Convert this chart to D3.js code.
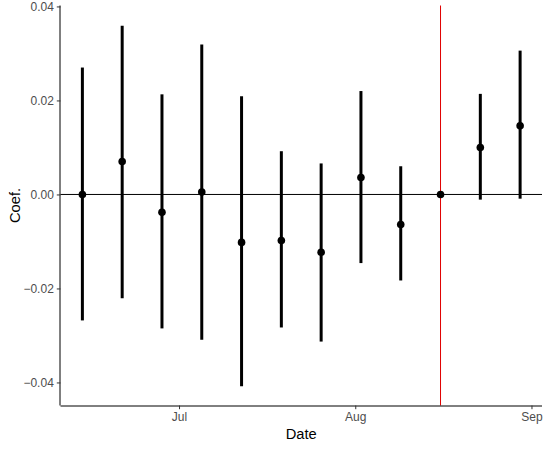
<!DOCTYPE html>
<html>
<head>
<meta charset="utf-8">
<script src="https://cdn.jsdelivr.net/npm/d3@7"></script>
<style>
  body { margin: 0; background: #fff; }
  svg { display: block; }
</style>
</head>
<body>
<svg id="chart" width="550" height="450"></svg>
<script>
// weekly event-study coefficients with 95% intervals
const dates = ['2020-06-14', '2020-06-21', '2020-06-28', '2020-07-05', '2020-07-12', '2020-07-19',
  '2020-07-26', '2020-08-02', '2020-08-09', '2020-08-16', '2020-08-23', '2020-08-30'];
const coef = [0, 0.0070, -0.0038, 0.0005, -0.0102, -0.0098, -0.0123, 0.0036, -0.0064, 0, 0.0100, 0.0146];
const lower = [-0.0268, -0.0221, -0.0285, -0.0309, -0.0408, -0.0283, -0.0313, -0.0146, -0.0183, 0, -0.0011, -0.0009];
const upper = [0.0270, 0.0359, 0.0213, 0.0319, 0.0209, 0.0092, 0.0066, 0.0220, 0.0060, 0, 0.0214, 0.0306];
const refDate = '2020-08-16';
const xTicks = ['2020-07-01', '2020-08-01', '2020-09-01'];
const yTicks = [-0.04, -0.02, 0, 0.02, 0.04];

const parse = d3.utcParse('%Y-%m-%d');
const data = dates.map((d, i) => ({ date: parse(d), coef: coef[i], lo: lower[i], hi: upper[i] }));

const svg = d3.select('#chart');
const panel = { left: 60.5, right: 542, top: 5.5, bottom: 405.5 };
const FONT = 'Arial, "Liberation Sans", sans-serif';

// ggplot-style 5% expansion on x
const [d0, d1] = d3.extent(data, (d) => d.date);
const pad = (d1 - d0) * 0.05;
const x = d3.scaleUtc()
  .domain([new Date(+d0 - pad), new Date(+d1 + pad)])
  .range([panel.left, panel.right]);

const y = d3.scaleLinear()
  .domain([-0.0449, 0.0402])
  .range([panel.bottom, panel.top]);

// zero line
svg.append('line')
  .attr('x1', panel.left)
  .attr('x2', panel.right)
  .attr('y1', y(0))
  .attr('y2', y(0))
  .style('stroke', '#000')
  .style('stroke-width', 1);

// reference date line
svg.append('line')
  .attr('x1', x(parse(refDate)))
  .attr('x2', x(parse(refDate)))
  .attr('y1', panel.top)
  .attr('y2', panel.bottom)
  .style('stroke', '#e00000')
  .style('stroke-width', 1);

// error bars
svg.append('g')
  .selectAll('line')
  .data(data.filter((d) => d.hi !== d.lo))
  .join('line')
  .attr('x1', (d) => x(d.date))
  .attr('x2', (d) => x(d.date))
  .attr('y1', (d) => y(d.lo))
  .attr('y2', (d) => y(d.hi))
  .style('stroke', '#000')
  .style('stroke-width', 3);

// points
svg.append('g')
  .selectAll('circle')
  .data(data)
  .join('circle')
  .attr('cx', (d) => x(d.date))
  .attr('cy', (d) => y(d.coef))
  .attr('r', 3.8)
  .style('fill', '#000');

// axes
const xAxis = svg.append('g')
  .attr('transform', `translate(0,${panel.bottom})`)
  .call(d3.axisBottom(x)
    .tickValues(xTicks.map(parse))
    .tickFormat(d3.utcFormat('%b'))
    .tickSize(3.7)
    .tickPadding(3));

const yAxis = svg.append('g')
  .attr('transform', `translate(${panel.left},0)`)
  .call(d3.axisLeft(y)
    .tickValues(yTicks)
    .tickFormat(d3.format('.2f'))
    .tickSize(3.7)
    .tickPadding(3));

[xAxis, yAxis].forEach((g) => {
  g.select('.domain').style('stroke', '#000').style('stroke-width', 1);
  g.selectAll('.tick line').style('stroke', '#333').style('stroke-width', 1);
  g.selectAll('.tick text')
    .style('font-family', FONT)
    .style('font-size', '12px')
    .style('fill', '#4d4d4d');
});
// y axis line only spans the panel; drop the outer tick caps
xAxis.select('.domain').attr('d', `M${panel.left},0.5H${panel.right}`);
yAxis.select('.domain').attr('d', `M-0.5,${panel.top}V${panel.bottom}`);

// axis titles
svg.append('text')
  .attr('x', (panel.left + panel.right) / 2)
  .attr('y', 439)
  .attr('text-anchor', 'middle')
  .style('font-family', FONT)
  .style('font-size', '14.7px')
  .style('fill', '#000')
  .text('Date');

svg.append('text')
  .attr('transform', `translate(20,${(panel.top + panel.bottom) / 2}) rotate(-90)`)
  .attr('text-anchor', 'middle')
  .style('font-family', FONT)
  .style('font-size', '14.7px')
  .style('fill', '#000')
  .text('Coef.');
</script>
</body>
</html>
